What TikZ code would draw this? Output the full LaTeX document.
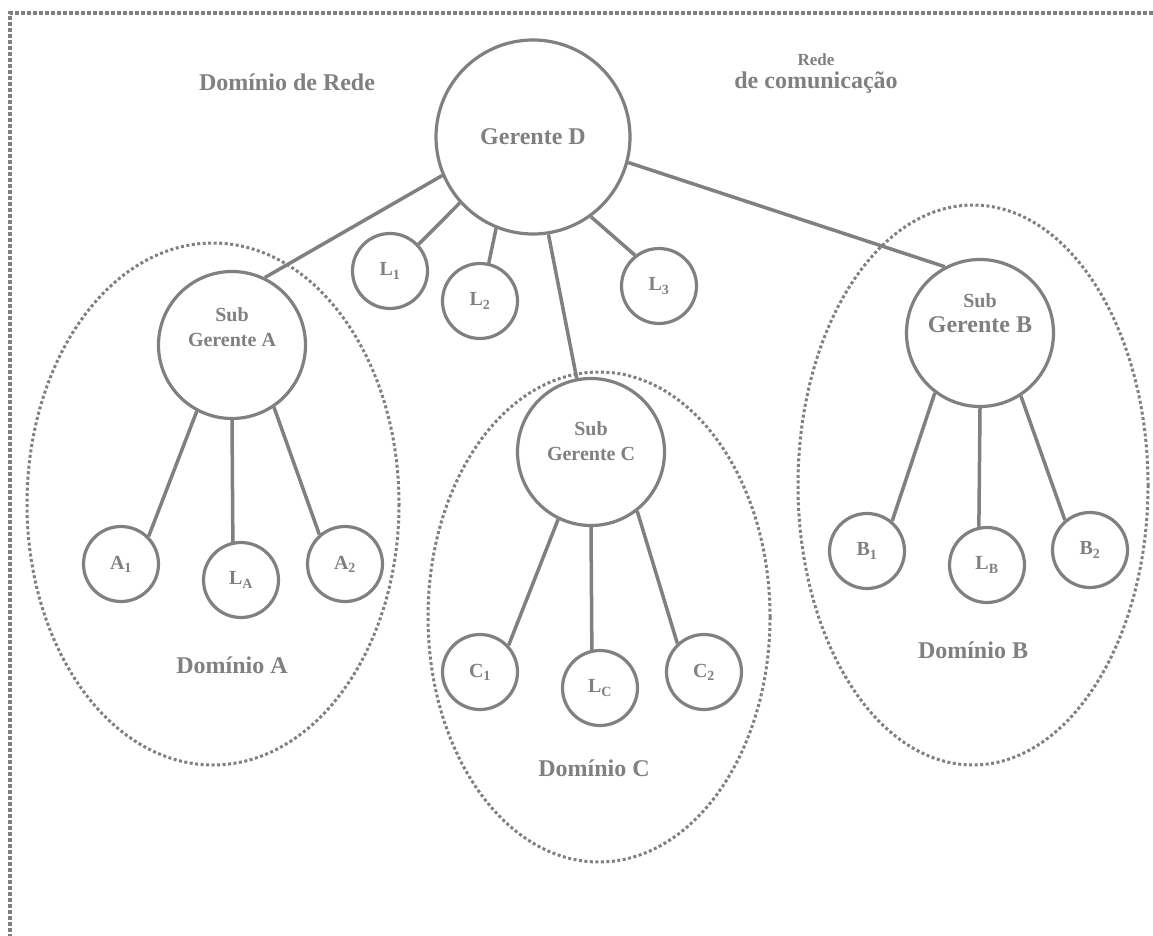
\documentclass[tikz,border=0pt]{standalone}
\usepackage{fontspec}
\setmainfont{Liberation Serif}
\definecolor{linegray}{RGB}{128,128,128}
\begin{document}
\begin{tikzpicture}[x=1pt,y=-1pt,
  every node/.style={text=linegray},
  big/.style={circle, draw=linegray, line width=3.2pt, minimum size=194pt, inner sep=0pt},
  sub/.style={circle, draw=linegray, line width=3.2pt, minimum size=147pt, inner sep=0pt},
  leaf/.style={circle, draw=linegray, line width=3.2pt, minimum size=75pt, inner sep=0pt,
               font=\bfseries\fontsize{20}{24}\selectfont},
  link/.style={draw=linegray, line width=3.5pt},
  domainline/.style={draw=linegray, line width=3pt, dash pattern=on 3pt off 2.5pt},
  frame/.style={draw=linegray, line width=3.5pt, dash pattern=on 4pt off 2pt},
  bigtext/.style={font=\bfseries\fontsize{24}{26}\selectfont, inner sep=0pt},
  subtext/.style={font=\bfseries\fontsize{20}{25}\selectfont, align=center, inner sep=0pt},
]
\useasboundingbox (0,0) rectangle (1153,936);

% outer frame (top and left edges)
\draw[frame] (1153,13) -- (10,13) -- (10,936);

% domain ellipses
\draw[domainline] (213,504) ellipse [x radius=186, y radius=261];
\draw[domainline] (599,617) ellipse [x radius=171, y radius=245];
\draw[domainline] (973,485) ellipse [x radius=175, y radius=280];

% manager nodes
\node[big] (D) at (533,137) {};
\node[bigtext] at (D.center) {Gerente D};

\node[sub] (SA) at (232,345) {};
\node[subtext] (tSA) at (232,327) {Sub\\Gerente A};
\node[sub] (SC) at (591,452) {};
\node[subtext] (tSC) at (591,441) {Sub\\Gerente C};
\node[sub] (SB) at (980,333) {};
\node[subtext] (tSB) at (980,313) {Sub\\{\fontsize{24}{25}\selectfont Gerente B}};

% leaf nodes
\node[leaf] (L1) at (390,271) {L\textsubscript{1}};
\node[leaf] (L2) at (480,301) {L\textsubscript{2}};
\node[leaf] (L3) at (659,286) {L\textsubscript{3}};
\node[leaf] (A1) at (121,564) {A\textsubscript{1}};
\node[leaf] (LA) at (241,580) {L\textsubscript{A}};
\node[leaf] (A2) at (345,564) {A\textsubscript{2}};
\node[leaf] (B1) at (867,551) {B\textsubscript{1}};
\node[leaf] (LB) at (987,565) {L\textsubscript{B}};
\node[leaf] (B2) at (1090,550) {B\textsubscript{2}};
\node[leaf] (C1) at (480,672) {C\textsubscript{1}};
\node[leaf] (LC) at (600,688) {L\textsubscript{C}};
\node[leaf] (C2) at (704,672) {C\textsubscript{2}};

% connectors
\draw[link] (D.203) -- (SA.64);
\draw[link] (D.222) -- (L1.43);
\draw[link] (D.248) -- (L2.77);
\draw[link] (D.279) -- (SC.101);
\draw[link] (D.306) -- (L3.128);
\draw[link] (D.345) -- (SB.118);

\draw[link] (SA.242) -- (A1.45);
\draw[link] (SA.270) -- (LA.102);
\draw[link] (SA.304) -- (A2.131);

\draw[link] (SB.233) -- (B1.50);
\draw[link] (SB.270) -- (LB.102);
\draw[link] (SB.303) -- (B2.130);

\draw[link] (SC.244) -- (C1.43);
\draw[link] (SC.270) -- (LC.102);
\draw[link] (SC.308) -- (C2.133);

% titles
\node[bigtext] (tRede) at (287,82) {Domínio de Rede};
\node[font=\bfseries\fontsize{17}{20}\selectfont, inner sep=0pt] (tCom1) at (816,60) {Rede};
\node[bigtext] (tCom2) at (816,83) {de comunicação};
\node[bigtext] (tDA) at (232,665) {Domínio A};
\node[bigtext] (tDB) at (973,650) {Domínio B};
\node[bigtext] (tDC) at (594,768) {Domínio C};
\end{tikzpicture}
\end{document}
